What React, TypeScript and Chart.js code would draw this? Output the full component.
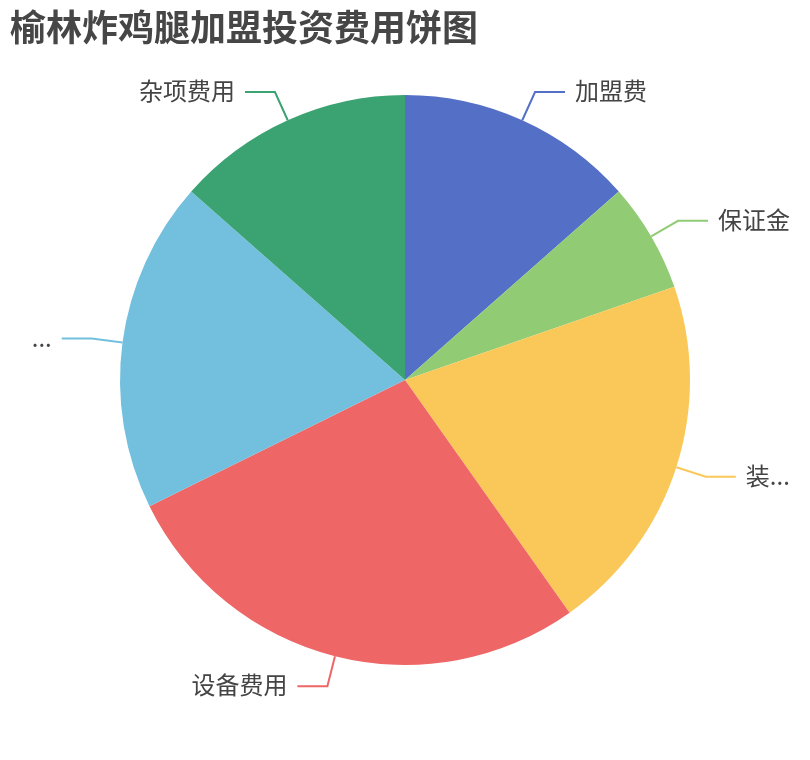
import { useEffect, useRef } from "react"
import { Chart, registerables } from "chart.js"

Chart.register(...registerables)

const title = "榆林炸鸡腿加盟投资费用饼图"

// visible label texts (two of them are cut short in the picture)
const labels = ["加盟费", "保证金", "装...", "设备费用", "...", "杂项费用"]

// share of each cost, in percent
const values = [13.5, 6.2, 20.5, 27.5, 18.8, 13.5]

const colors = ["#5470c6", "#91cc75", "#fac858", "#ee6666", "#73c0de", "#3ba272"]

const fontFamily = '"Noto Sans CJK SC", "Noto Sans", sans-serif'

// draws the outside labels with their two-part leader lines
const outsideLabels = {
  id: "outsideLabels",
  afterDatasetsDraw(chart: Chart) {
    const ctx = chart.ctx
    const meta = chart.getDatasetMeta(0)
    ctx.save()
    meta.data.forEach((arc: any, i: number) => {
      const { x, y, startAngle, endAngle, outerRadius } = arc.getProps(
        ["x", "y", "startAngle", "endAngle", "outerRadius"],
        true
      )
      const mid = (startAngle + endAngle) / 2
      const cos = Math.cos(mid)
      const sin = Math.sin(mid)
      const x1 = x + outerRadius * cos
      const y1 = y + outerRadius * sin
      const x2 = x + (outerRadius + 31) * cos
      const y2 = y + (outerRadius + 31) * sin
      const right = cos >= 0
      const x3 = x2 + (right ? 30 : -30)

      ctx.strokeStyle = colors[i]
      ctx.lineWidth = 2
      ctx.beginPath()
      ctx.moveTo(x1, y1)
      ctx.lineTo(x2, y2)
      ctx.lineTo(x3, y2)
      ctx.stroke()

      ctx.fillStyle = "#444"
      ctx.font = `24px ${fontFamily}`
      ctx.textBaseline = "middle"
      ctx.textAlign = right ? "left" : "right"
      ctx.fillText(labels[i], x3 + (right ? 10 : -10), y2 - 1)
    })

    // title, top left
    ctx.fillStyle = "#464646"
    ctx.font = `bold 36px ${fontFamily}`
    ctx.textAlign = "left"
    ctx.textBaseline = "middle"
    ctx.fillText(title, 10, 27)
    ctx.restore()
  },
}

function PieChart() {
  const chartRef = useRef<HTMLCanvasElement>(null)
  const chartInstance = useRef<Chart | null>(null)

  useEffect(() => {
    if (!chartRef.current) return

    if (chartInstance.current) {
      chartInstance.current.destroy()
    }

    const ctx = chartRef.current.getContext("2d")
    if (!ctx) return

    chartInstance.current = new Chart(ctx, {
      type: "pie",
      data: {
        labels,
        datasets: [
          {
            data: values,
            backgroundColor: colors,
            borderWidth: 0,
          },
        ],
      },
      options: {
        animation: false,
        responsive: true,
        maintainAspectRatio: false,
        layout: {
          padding: { left: 120, right: 120, top: 95, bottom: 95 },
        },
        plugins: {
          legend: { display: false },
          tooltip: { enabled: false },
        },
      },
      plugins: [outsideLabels],
    })

    return () => {
      if (chartInstance.current) {
        chartInstance.current.destroy()
        chartInstance.current = null
      }
    }
  }, [])

  return <canvas ref={chartRef} />
}

export default function App() {
  return (
    <div
      style={{
        position: "fixed",
        left: 0,
        top: 0,
        width: 810,
        height: 760,
        background: "#fff",
      }}
    >
      <PieChart />
    </div>
  )
}
